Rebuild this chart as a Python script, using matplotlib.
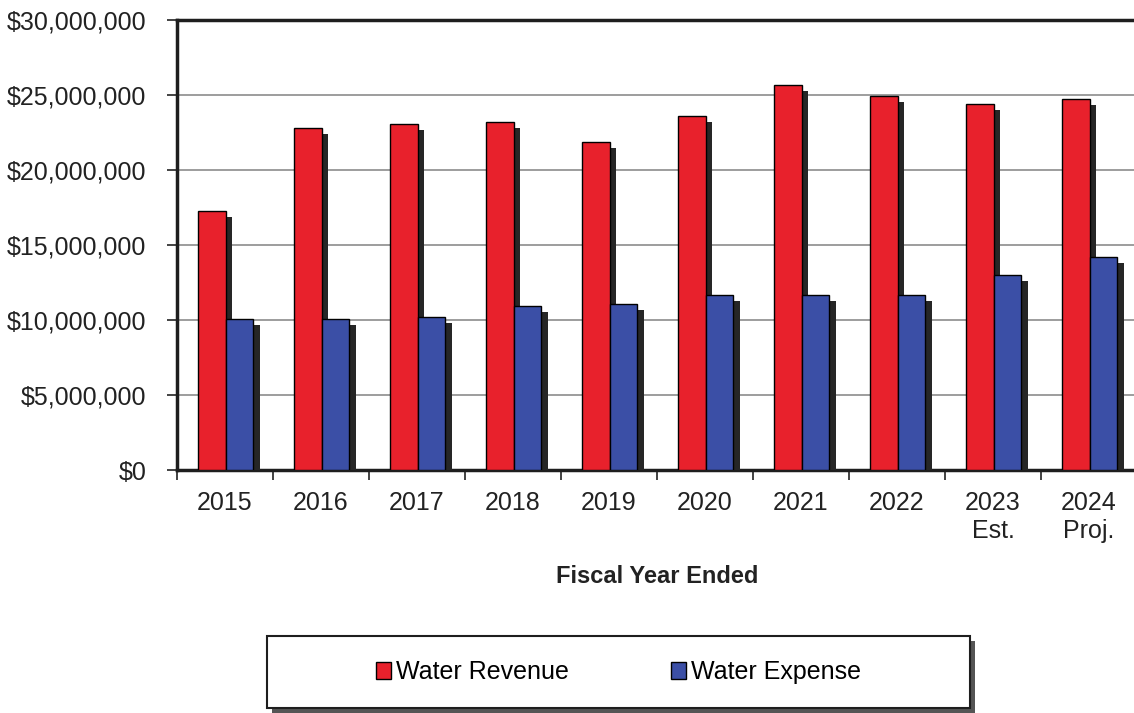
import matplotlib.pyplot as plt
import matplotlib.patches as mpatches
import numpy as np
from matplotlib.ticker import FuncFormatter, FixedLocator

plt.rcParams['font.family'] = ['Liberation Sans', 'DejaVu Sans']

# data
years = ["2015", "2016", "2017", "2018", "2019", "2020", "2021", "2022", "2023\nEst.", "2024\nProj."]
revenue = [17.3e6, 22.8e6, 23.1e6, 23.2e6, 21.9e6, 23.6e6, 25.65e6, 24.95e6, 24.4e6, 24.75e6]
expense = [10.1e6, 10.1e6, 10.2e6, 10.95e6, 11.1e6, 11.7e6, 11.7e6, 11.7e6, 13.0e6, 14.2e6]

red = "#e8212c"
blue = "#3b4fa6"
shadow = "#262626"

fig = plt.figure(figsize=(11.34, 7.13), dpi=100)
ax = fig.add_axes([177 / 1134, 1 - 470 / 713, 960 / 1134, 450 / 713])

x = np.arange(len(years))
w = 0.285
dx, dy = 0.07, 0.4e6  # drop shadow offset

ax.bar(x - 0.135 + dx, np.array(revenue) - dy, w, color=shadow, zorder=2)
ax.bar(x - 0.135, revenue, w, color=red, edgecolor="black", linewidth=1, zorder=3, label="Water Revenue")
ax.bar(x + 0.15 + dx, np.array(expense) - dy, w, color=shadow, zorder=4)
ax.bar(x + 0.15, expense, w, color=blue, edgecolor="black", linewidth=1, zorder=5, label="Water Expense")

ax.set_xlim(-0.5, len(years) - 0.5)
ax.set_ylim(0, 30e6)
ax.set_yticks(np.arange(0, 30e6 + 1, 5e6))
ax.yaxis.set_major_formatter(FuncFormatter(lambda v, p: f"${v:,.0f}"))
ax.yaxis.grid(True, color="#8c8c8c", linewidth=1.2, zorder=0)
ax.set_axisbelow(True)

# ticks between categories, labels at centres
ax.xaxis.set_major_locator(FixedLocator(np.arange(-0.5, len(years), 1.0)))
ax.xaxis.set_minor_locator(FixedLocator(x))
ax.set_xticklabels([])
ax.set_xticklabels(years, minor=True)
ax.tick_params(axis="x", which="major", length=7, width=1.2, color="#222222")
ax.tick_params(axis="x", which="minor", length=0, pad=15, labelsize=18, labelcolor="#222222")
ax.tick_params(axis="y", length=7, width=1.2, color="#222222", pad=15, labelsize=18, labelcolor="#222222")

for side in ["left", "bottom", "top"]:
    ax.spines[side].set_color("#1e1e1e")
    ax.spines[side].set_linewidth(2.5)
ax.spines["right"].set_visible(False)

ax.set_xlabel("Fiscal Year Ended", fontsize=17, fontweight="bold", color="#222222", labelpad=16)

# legend box with drop shadow
bx, by, bw, bh = 267 / 1134, 1 - 708 / 713, 703 / 1134, 72 / 713
fig.patches.append(mpatches.Rectangle((bx + 5 / 1134, by - 5 / 713), bw, bh, transform=fig.transFigure,
                                      facecolor="#555555", edgecolor="none", zorder=1))
fig.patches.append(mpatches.Rectangle((bx, by), bw, bh, transform=fig.transFigure,
                                      facecolor="white", edgecolor="#1e1e1e", linewidth=1.5, zorder=2))
fig.legend(loc="center", bbox_to_anchor=(bx + bw / 2, by + bh / 2), ncol=2, frameon=False,
           fontsize=18, handlelength=0.6, handleheight=0.65, handletextpad=0.2, columnspacing=4.1)

fig.savefig("out.png", dpi=100)
